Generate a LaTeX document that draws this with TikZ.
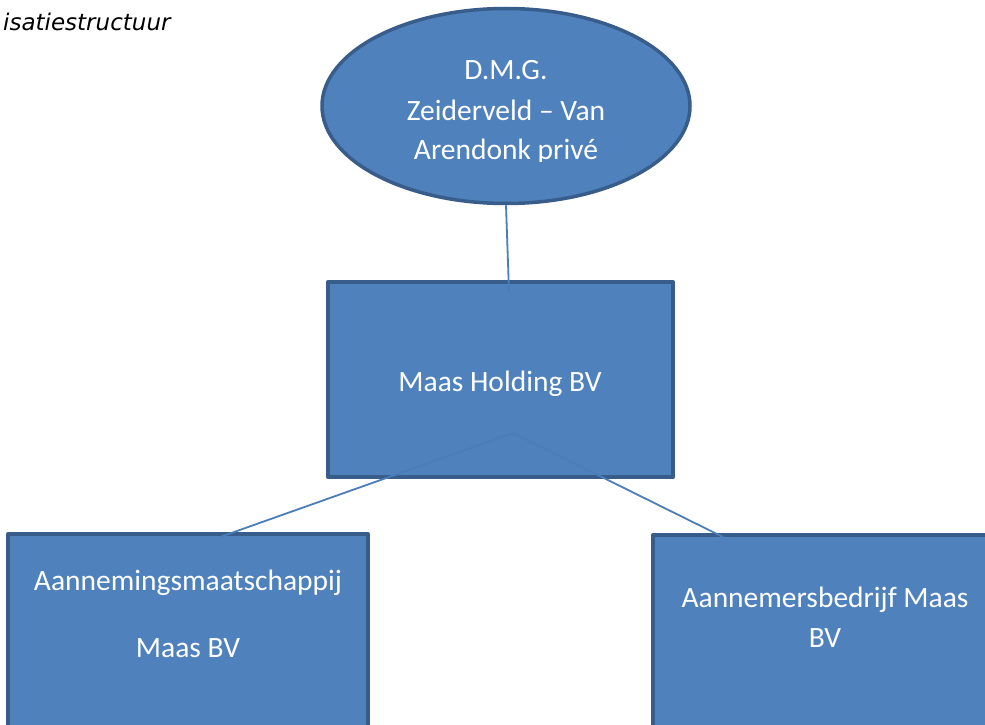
\documentclass[tikz,border=0pt]{standalone}
\usepackage{fontspec}
\setmainfont{Carlito}
\newfontfamily\titlefont{DejaVu Sans}
\usetikzlibrary{shapes.geometric}
\definecolor{boxfill}{HTML}{4F81BD}
\definecolor{boxline}{HTML}{385D8A}
\definecolor{conn}{HTML}{4A7EBB}
\tikzset{
  orgbox/.style={draw=boxline, fill=boxfill, line width=4pt, line join=round},
  orgoval/.style={ellipse, draw=boxline, fill=boxfill, line width=3.5pt, inner sep=0pt},
  lbl/.style={text=white, font=\fontsize{29.5}{35}\selectfont, anchor=base, inner sep=0pt},
  conline/.style={draw=conn, line width=1.8pt},
}
\begin{document}
\begin{tikzpicture}[x=1pt, y=-1pt]
\useasboundingbox (0,0) rectangle (985,725);
\clip (0,0) rectangle (985,725);
\fill[white] (0,0) rectangle (985,725);
% title fragment
\node[anchor=base west, inner sep=0pt, font=\titlefont\itshape\fontsize{23}{27}\selectfont] (title) at (3,31) {isatiestructuur};
\coordinate (hub) at (513,433);
% shapes
\node[orgoval, minimum width=368pt, minimum height=195pt] (dmg) at (506,106) {};
\draw[orgbox] (328,282) rectangle (673,477);
\coordinate (holdingtop) at (509,292);
\draw[orgbox] (8,534) rectangle (368,760);
\draw[orgbox] (653,535) rectangle (1000,760);
\coordinate (lefttop) at (220,537);
\coordinate (righttop) at (723,537);
\draw[conline] (dmg.south) -- (holdingtop);
\draw[conline] (hub) -- (lefttop);
\draw[conline] (hub) -- (righttop);
% texts
\begin{scope}
\clip (320,0) rectangle (690,161);
\node[lbl] (t1) at (506,80) {D.M.G.};
\node[lbl] (t2) at (506,120) {Zeiderveld – Van};
\node[lbl] (t3) at (506,159) {Arendonk privé};
\end{scope}
\node[lbl] (hold) at (500,391) {Maas Holding BV};
\node[lbl] (am1) at (188,590) {Aannemingsmaatschappij};
\node[lbl] (am2) at (188,657) {Maas BV};
\node[lbl] (ab1) at (825,607) {Aannemersbedrijf Maas};
\node[lbl] (ab2) at (825,647) {BV};
\end{tikzpicture}
\end{document}
